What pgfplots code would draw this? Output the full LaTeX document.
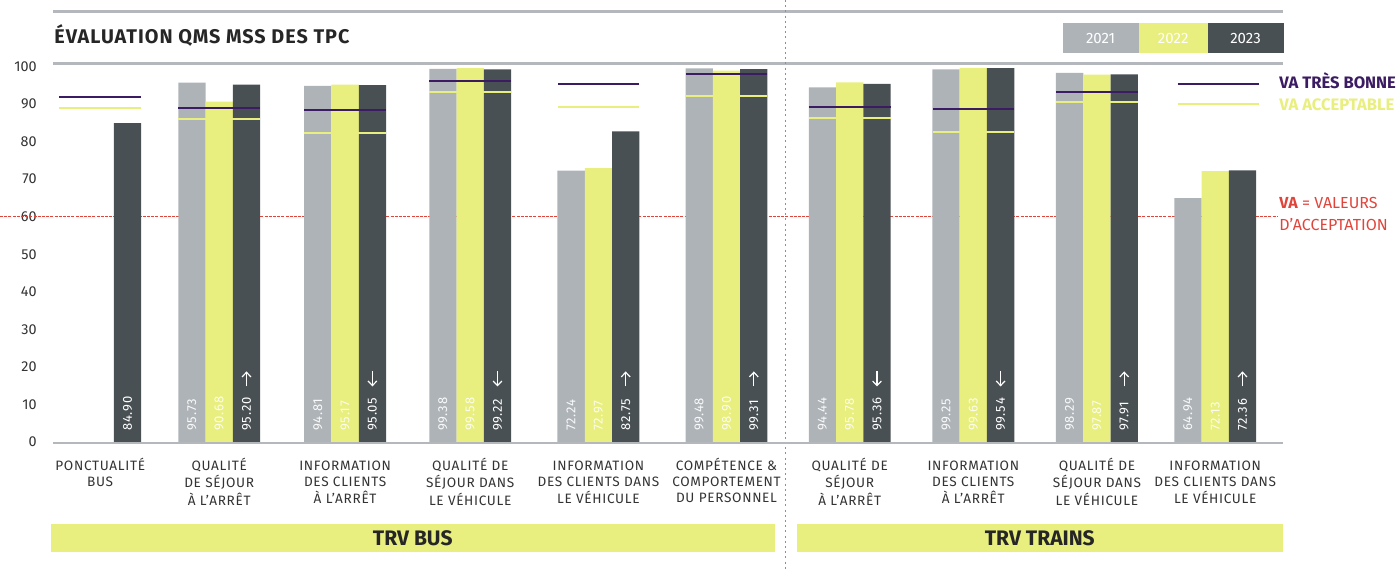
\documentclass[border=0pt]{standalone}
\usepackage{pgfplots}
\pgfplotsset{compat=1.18}
\usepackage{pgfplotstable}
\usetikzlibrary{arrows.meta}
\usepackage{fontspec}
\setmainfont{Fira Sans}
\newfontfamily\spacedfont{Fira Sans}[LetterSpace=5]
\newfontfamily\valfont{Fira Sans}[LetterSpace=6]

\definecolor{cA}{HTML}{AEB3B8}
\definecolor{cB}{HTML}{E8EF7E}
\definecolor{cC}{HTML}{495053}
\definecolor{cRule}{HTML}{B4B8BC}
\definecolor{cP}{HTML}{3B1B61}
\definecolor{cRed}{HTML}{E0453C}
\definecolor{cT}{HTML}{262626}
\definecolor{cL}{HTML}{333333}
\definecolor{cSep}{HTML}{8C9196}

% pos = group centre (px), values per year, VA tres bonne, VA acceptable, trend
\pgfplotstableread{
pos    y2021 y2022 y2023 vtb  vacc dir
100.2  nan   nan   84.90 92.0 89.0 nan
219.2  95.73 90.68 95.20 89.0 85.9 1
345.1  94.81 95.17 95.05 88.3 82.3 -1
470.2  99.38 99.58 99.22 96.2 93.3 -1
598.4  72.24 72.97 82.75 95.3 89.3 1
726.5  99.48 98.90 99.31 97.9 92.2 1
849.7  94.44 95.78 95.36 89.3 86.2 -1
973.3  99.25 99.63 99.54 88.7 82.6 -1
1096.9 98.29 97.87 97.91 93.3 90.5 1
1215.2 64.94 72.13 72.36 nan  nan  1
}\datatable

\begin{document}
\begin{tikzpicture}
\begin{axis}[
  x=0.5pt, y=1.8775pt,
  xmin=53, xmax=1283, ymin=0, ymax=100,
  clip=false,
  axis line style={draw=none},
  major tick style={draw=none},
  bar width=27.3,
  ytick={0,10,...,100},
  /pgf/number format/assume math mode=true,
  yticklabel style={font=\fontsize{7.2}{8}\selectfont, text=cL, anchor=east, inner sep=0pt, xshift=-8pt},
  xtick={100.2,219.2,345.1,470.2,598.4,726.5,849.7,973.3,1096.9,1215.2},
  xticklabels={
    {\begin{tabular}[t]{@{}c@{}}PONCTUALITÉ\\BUS\end{tabular}},
    {\begin{tabular}[t]{@{}c@{}}QUALITÉ\\DE SÉJOUR\\À L’ARRÊT\end{tabular}},
    {\begin{tabular}[t]{@{}c@{}}INFORMATION\\DES CLIENTS\\À L’ARRÊT\end{tabular}},
    {\begin{tabular}[t]{@{}c@{}}QUALITÉ DE\\SÉJOUR DANS\\LE VÉHICULE\end{tabular}},
    {\begin{tabular}[t]{@{}c@{}}INFORMATION\\DES CLIENTS DANS\\LE VÉHICULE\end{tabular}},
    {\begin{tabular}[t]{@{}c@{}}COMPÉTENCE \&\\COMPORTEMENT\\DU PERSONNEL\end{tabular}},
    {\begin{tabular}[t]{@{}c@{}}QUALITÉ DE\\SÉJOUR\\À L’ARRÊT\end{tabular}},
    {\begin{tabular}[t]{@{}c@{}}INFORMATION\\DES CLIENTS\\À L’ARRÊT\end{tabular}},
    {\begin{tabular}[t]{@{}c@{}}QUALITÉ DE\\SÉJOUR DANS\\LE VÉHICULE\end{tabular}},
    {\begin{tabular}[t]{@{}c@{}}INFORMATION\\DES CLIENTS DANS\\LE VÉHICULE\end{tabular}}
  },
  xticklabel style={font=\spacedfont\fontsize{6.8}{8}\selectfont, text=cL, anchor=base, inner sep=0pt, yshift=-14.35pt},
]
% frame
\coordinate (BL) at (axis cs:0,-33.82);
\coordinate (TR) at (axis cs:1396,117.71);

% red acceptance line (behind bars)
\draw[cRed, line width=0.5pt, dash pattern=on 1.5pt off 0.6pt] (axis cs:0,60) -- (axis cs:1277,60);

% rules
\draw[cRule, line width=1.35pt] (axis cs:53,114.6) -- (axis cs:1283,114.6);
\draw[cRule, line width=1.35pt] (axis cs:53,100.85) -- (axis cs:1283,100.85);

% separator
\draw[cSep, line width=0.6pt, dash pattern=on 1pt off 1.6pt] (axis cs:785.7,117.71) -- (axis cs:785.7,-33.82);

% bars
\addplot[ybar, bar shift=-27.3, fill=cA, draw=none] table[x=pos, y=y2021] {\datatable};
\addplot[ybar, bar shift=0,     fill=cB, draw=none] table[x=pos, y=y2022] {\datatable};
\addplot[ybar, bar shift=27.3,  fill=cC, draw=none] table[x=pos, y=y2023] {\datatable};

\draw[cRule, line width=1.25pt] (axis cs:53,-0.25) -- (axis cs:1283,-0.25);

% thresholds
\addplot[only marks, mark=-, mark size=20.4pt, mark options={draw=cB, line width=1pt}] table[x=pos, y=vacc] {\datatable};
\addplot[only marks, mark=-, mark size=20.4pt, mark options={draw=cP, line width=1pt}] table[x=pos, y=vtb] {\datatable};

% value labels
\addplot[draw=none, mark=none, point meta=explicit symbolic, nodes near coords,
  nodes near coords style={rotate=90, anchor=west, inner sep=0pt, font=\valfont\fontsize{6.5}{7}\selectfont, text=white!92!cA}]
  table[x expr=\thisrow{pos}-27.3, y expr=\thisrow{y2021}*0+2.9, meta=y2021] {\datatable};
\addplot[draw=none, mark=none, point meta=explicit symbolic, nodes near coords,
  nodes near coords style={rotate=90, anchor=west, inner sep=0pt, font=\valfont\fontsize{6.5}{7}\selectfont, text=white!85!cB}]
  table[x expr=\thisrow{pos}, y expr=\thisrow{y2022}*0+2.9, meta=y2022] {\datatable};
\addplot[draw=none, mark=none, point meta=explicit symbolic, nodes near coords,
  nodes near coords style={rotate=90, anchor=west, inner sep=0pt, font=\valfont\fontsize{6.5}{7}\selectfont, text=white}]
  table[x expr=\thisrow{pos}+27.3, y expr=\thisrow{y2023}*0+2.9, meta=y2023] {\datatable};

% trend arrows
\addplot[white, line width=0.6pt, -{Straight Barb[length=2.3pt, width=4.4pt]},
  quiver={u=0, v=4*\thisrow{dir}}]
  table[x expr=\thisrow{pos}+27.3, y expr=16.8-2*\thisrow{dir}] {\datatable};

% title
\node[anchor=base west, inner sep=0pt, font=\spacedfont\bfseries\fontsize{9.9}{10}\selectfont, text=cT]
  at (axis cs:54,106.18) {ÉVALUATION QMS MSS DES TPC};

% year legend
\fill[cA] (axis cs:1062.5,103.5) rectangle (axis cs:1138.8,111.5);
\fill[cB] (axis cs:1138.8,103.5) rectangle (axis cs:1207.6,111.5);
\fill[cC] (axis cs:1207.6,103.5) rectangle (axis cs:1283.5,111.5);
\node[font=\fontsize{7.5}{8}\selectfont, text=white, inner sep=0pt] at (axis cs:1100.6,107.5) {2021};
\node[font=\fontsize{7.5}{8}\selectfont, text=white, inner sep=0pt] at (axis cs:1173.2,107.5) {2022};
\node[font=\fontsize{7.5}{8}\selectfont, text=white, inner sep=0pt] at (axis cs:1245.5,107.5) {2023};

% VA legend
\draw[cP, line width=1pt] (axis cs:1177.7,95.34) -- (axis cs:1259,95.34);
\draw[cB, line width=1pt] (axis cs:1177.7,90.09) -- (axis cs:1259,90.09);
\node[anchor=base west, inner sep=0pt, font=\bfseries\fontsize{8.3}{9}\selectfont, text=cP] at (axis cs:1279,94.27) {VA TRÈS BONNE};
\node[anchor=base west, inner sep=0pt, font=\bfseries\fontsize{8.3}{9}\selectfont, text=cB] at (axis cs:1279,88.4) {VA ACCEPTABLE};
\node[anchor=base west, inner sep=0pt, font=\fontsize{8}{9}\selectfont, text=cRed] at (axis cs:1279,62.24) {\textbf{VA} = VALEURS};
\node[anchor=base west, inner sep=0pt, font=\fontsize{8}{9}\selectfont, text=cRed] at (axis cs:1279,56.46) {D’ACCEPTATION};

% bottom bands
\fill[cB] (axis cs:51,-21.84) rectangle (axis cs:774.5,-29.21);
\fill[cB] (axis cs:797,-21.84) rectangle (axis cs:1282.6,-29.21);
\node[font=\bfseries\fontsize{10.5}{11}\selectfont, text=cT, inner sep=0pt] at (axis cs:412.75,-25.5) {TRV BUS};
\node[font=\bfseries\fontsize{10.5}{11}\selectfont, text=cT, inner sep=0pt] at (axis cs:1039.8,-25.5) {TRV TRAINS};
\end{axis}
\pgfresetboundingbox
\path[use as bounding box] (BL) rectangle (TR);
\end{tikzpicture}
\end{document}
